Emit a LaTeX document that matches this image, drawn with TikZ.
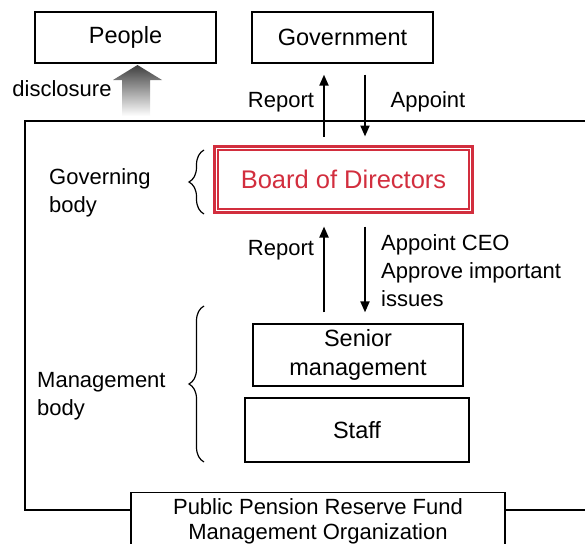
\documentclass[tikz,border=0pt]{standalone}
\usepackage{fontspec}
\setmainfont{Liberation Sans}
\usetikzlibrary{arrows.meta,positioning,decorations.pathreplacing}
\definecolor{boardred}{RGB}{210,46,62}
\tikzset{
	box/.style={draw, line width=1.3pt, minimum width=#1, minimum height=51pt, inner sep=0pt, align=center, font=\fontsize{23.5}{28.5}\selectfont},
	lbl/.style={inner sep=0pt, align=left, font=\fontsize{22}{28}\selectfont},
	arr/.style={line width=2pt, -{Triangle[width=9pt,length=11pt]}},
	brc/.style={decorate, decoration={brace, amplitude=15pt}, line width=1.2pt}
}
\begin{document}
\begin{tikzpicture}[x=1pt,y=-1pt]
		\useasboundingbox (0,0) rectangle (585,543);
		\clip (0,0) rectangle (585,543);

		\draw[line width=2.5pt] (600,121) -| (25,510) -- (600,510);

		\node[box=181pt] (people) at (125.5,37.5) {People};
		\node[box=181pt] (gov) at (342.5,37.5) {Government};

		\node[box=258pt, minimum height=66pt, draw=boardred, line width=3pt, text=boardred, font=\fontsize{25.5}{30}\selectfont] (board) at (343.5,179.5) {Board of Directors};
		\draw[boardred, line width=1.6pt] ([shift={(5pt,-5pt)}]board.north west) rectangle ([shift={(-5pt,5pt)}]board.south east);

		\node[box=210pt, minimum height=62pt] (senior) at (358,355) {Senior\\management};
		\node[box=224pt, minimum height=64pt] (staff) at (357,430) {Staff};
		\node[box=374pt, minimum height=57pt, fill=white, anchor=north, font=\fontsize{22}{25}\selectfont] (ppo) at (318,492) {Public Pension Reserve Fund\\Management Organization};

		% government <-> board
		\draw[arr, shorten <=8.5pt, shorten >=11pt] ([xshift=-19.5pt]board.north) -- ([xshift=-19.5pt]board.north |- gov.south);
		\draw[arr, shorten <=11pt, shorten >=8.5pt] ([xshift=21.5pt]board.north |- gov.south) -- ([xshift=21.5pt]board.north);
		\node[lbl] (rep1) at (281,102) {Report};
		\node[lbl] (app1) at (428,102) {Appoint};

		% board <-> management
		\draw[arr, shorten <=11pt, shorten >=12.5pt] ([xshift=-19.5pt]board.south |- senior.north) -- ([xshift=-19.5pt]board.south);
		\draw[arr, shorten <=12.5pt, shorten >=11pt] ([xshift=21.5pt]board.south) -- ([xshift=21.5pt]board.south |- senior.north);
		\node[lbl] (rep2) at (281,250) {Report};
		\node[lbl, anchor=west] (app2) at (381,271) {Appoint CEO\\Approve important\\issues};

		% disclosure
		\shade[top color=black!75, bottom color=white] (122,116) -- (122,80) -- (113,80) -- (137.5,65) -- (162,80) -- (150,80) -- (150,116) -- cycle;
		\node[lbl] (disc) at (62,89) {disclosure};

		% braces
		\node[lbl, anchor=west] (govbody) at (49,193) {Governing\\body};
		\draw[brc] (204,214) -- (204,150);
		\node[lbl, anchor=west] (mgmtbody) at (37,396) {Management\\body};
		\draw[brc] (204,462) -- (204,306);
	\end{tikzpicture}
\end{document}
